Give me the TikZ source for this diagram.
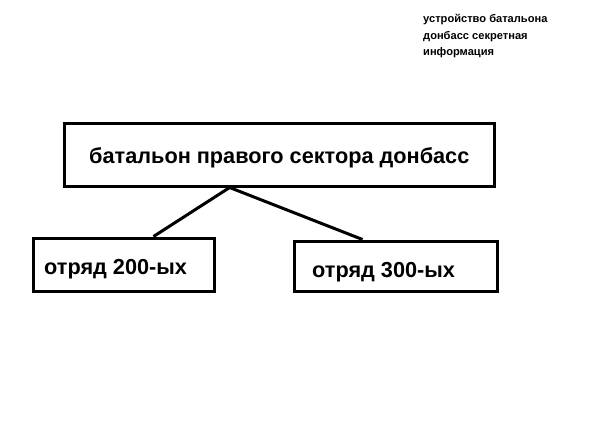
\documentclass[tikz,border=0pt]{standalone}
\usepackage{fontspec}
\setmainfont{Liberation Sans}
\usetikzlibrary{calc}
\tikzset{
  box/.style={draw=black, line width=3pt, rectangle, inner sep=0pt, fill=white},
  lbl/.style={anchor=base west, inner sep=0pt, font=\bfseries\fontsize{21.7}{24}\selectfont},
  note/.style={anchor=base west, inner sep=0pt, font=\bfseries\fontsize{11.1}{16}\selectfont},
  link/.style={draw=black, line width=3pt}
}
\begin{document}
\begin{tikzpicture}[x=1pt,y=-1pt]
\useasboundingbox[fill=white] (0,0) rectangle (604,424);
\node[box, minimum width=430pt, minimum height=63pt] (main) at (279,154.5) {};
\node[box, minimum width=181pt, minimum height=53pt] (left) at (123.5,264.5) {};
\node[box, minimum width=203pt, minimum height=50pt] (right) at (395.5,266) {};
\node[lbl] (tmain) at (89,163) {батальон правого сектора донбасс};
\node[lbl] (tleft) at (44,274) {отряд 200-ых};
\node[lbl] (tright) at (312,277) {отряд 300-ых};
\node[note] (n1) at (423,22.5) {устройство батальона};
\node[note] (n2) at (423,39) {донбасс секретная};
\node[note] (n3) at (423,55) {информация};
\coordinate (apex) at ($(main.south west)!0.386!(main.south east)$);
\draw[link] (apex) -- ($(left.north west)!0.663!(left.north east)$);
\draw[link] (apex) -- ($(right.north west)!0.34!(right.north east)$);
\end{tikzpicture}
\end{document}
